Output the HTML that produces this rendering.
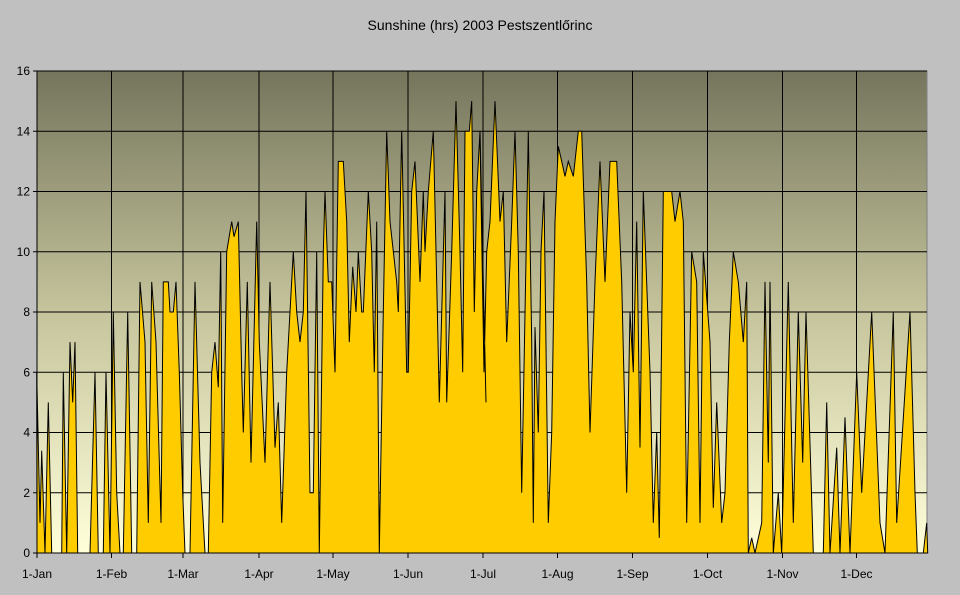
<!DOCTYPE html>
<html><head><meta charset="utf-8"><style>
body{margin:0;background:#c0c0c0;}
svg{display:block;font-family:"Liberation Sans",sans-serif;}
</style></head><body>
<svg id="s" width="960" height="595" xmlns="http://www.w3.org/2000/svg">
<defs><linearGradient id="g" x1="0" y1="0" x2="0" y2="1">
<stop offset="0" stop-color="#75755d"/><stop offset="0.5" stop-color="#c5c49c"/><stop offset="1" stop-color="#ffffda"/></linearGradient></defs>
<rect width="960" height="595" fill="#c0c0c0"/>
<text x="480" y="30" font-size="14" text-anchor="middle" fill="#000">Sunshine (hrs) 2003 Pestszentlőrinc</text>
<rect x="37" y="71" width="890" height="482" fill="url(#g)" stroke="#808080"/>
<g id="grid" stroke="#000" stroke-width="1"></g>
<path id="area" fill="#ffcc00" stroke="#000" stroke-width="1"/>
<g id="lab" font-size="12" fill="#000"></g>
</svg>
<script>
var z1=[[20,6],[30,1],[35,3.4],[45,0],[55,5],[65,0],[95,0],[100,6],[110,0],[120,7],[128,5],[135,7],[143,0],[180,0],[195,6],[205,0],[220,0],[228,6],[240,0],[250,8],[260,2],[270,0],[280,0],[293,8],[305,0],[320,0],[330,9],[345,7],[355,1],[365,9],[378,7],[393,1],[400,9],[415,9],[420,8],[430,8],[438,9],[448,6],[458,2],[465,0],[480,0],[495,9],[510,3],[525,0],[535,0],[545,6],[555,7],[565,5.5],[572,10],[578,1],[590,10],[605,11],[612,10.5],[625,11],[635,6],[640,4],[652,9],[663,3],[680,11],[688,7],[705,3],[720,9],[735,3.5],[745,5],[755,1],[770,6],[790,10],[800,8],[810,7],[820,8],[828,12],[840,2],[850,2],[860,10],[868,0],[880,10],[885,12],[895,9],[905,9],[915,6],[925,13],[940,13],[950,11],[958,7],[968,9.5],[978,8],[985,10],[995,8],[1000,8],[1015,12],[1025,10],[1033,6],[1040,11],[1048,0],[1060,8],[1070,14],[1080,11],[1100,9],[1105,8],[1115,14],[1130,6],[1135,6],[1145,12],[1155,13],[1170,9],[1180,12],[1185,10],[1195,12],[1210,14],[1220,9],[1228,5],[1245,12],[1250,5],[1265,10],[1278,15],[1290,10],[1298,6],[1305,14],[1318,14],[1325,15],[1333,8],[1340,12],[1350,14],[1360,9],[1368,5]];
var z2=[[0,13.8],[12,6],[20,10],[30,11],[45,15],[60,11],[70,12],[80,7],[95,11],[105,14],[115,10],[125,2],[140,11],[145,14],[155,7],[160,1],[165,7.5],[175,4],[183,10],[192,12],[205,1],[215,4],[225,11],[235,13.5],[245,13],[255,12.5],[265,13],[280,12.5],[295,14],[305,14],[320,9],[330,4],[345,9],[360,13],[375,9],[390,13],[410,13],[425,9],[440,2],[450,8],[460,6],[470,11],[480,3.5],[490,12],[510,6],[520,1],[530,4],[538,0.5],[550,12],[560,12],[575,12],[585,11],[600,12],[610,11],[620,1],[635,10],[650,9],[660,1],[670,10],[690,7],[700,1.5],[710,5],[725,1],[735,2],[748,7],[760,10],[775,9],[790,7],[800,9],[805,0],[815,0.5],[825,0],[845,1],[855,9],[865,3],[870,9],[880,0],[895,2],[905,0],[925,9],[940,1],[955,8],[968,3],[978,8],[1000,0],[1030,0],[1040,5],[1050,0],[1070,3.5],[1080,0],[1095,4.5],[1110,0],[1130,6],[1145,2],[1175,8],[1200,1],[1215,0],[1240,8],[1250,1],[1290,8],[1305,2],[1312,0],[1330,0],[1340,1],[1343,0]];
var Y=function(v){return 553-v*30.125};
var d="M37,553 L37,"+Y(0);
z1.forEach(function(p){d+=" L"+(30+p[0]/3).toFixed(1)+","+Y(p[1]).toFixed(1)});
z2.forEach(function(p){d+=" L"+(480+p[0]/3).toFixed(1)+","+Y(p[1]).toFixed(1)});
d+=" L927,553 Z";
document.getElementById('area').setAttribute('d',d);
var ns="http://www.w3.org/2000/svg",gr=document.getElementById('grid'),lb=document.getElementById('lab');
function el(t,a,p,txt){var e=document.createElementNS(ns,t);for(var k in a)e.setAttribute(k,a[k]);if(txt!==undefined)e.textContent=txt;p.appendChild(e);return e;}
for(var v=0;v<=16;v+=2){var y=Y(v);el('line',{x1:37,x2:927,y1:y,y2:y},gr);el('line',{x1:33,x2:37,y1:y,y2:y,stroke:'#000'},lb);el('text',{x:30,y:y+4,'text-anchor':'end'},lb,String(v));}
var m=["1-Jan","1-Feb","1-Mar","1-Apr","1-May","1-Jun","1-Jul","1-Aug","1-Sep","1-Oct","1-Nov","1-Dec"],xs=[37,111.5,183,259,333,408,483,557.5,632.5,707.5,782.5,856.5];
for(var i=0;i<12;i++){var x=xs[i];el('line',{x1:x,x2:x,y1:71,y2:553},gr);el('line',{x1:x,x2:x,y1:553,y2:558,stroke:'#000'},lb);el('text',{x:x,y:578,'text-anchor':'middle'},lb,m[i]);}
el('line',{x1:37,x2:37,y1:71,y2:553,stroke:'#000'},lb);el('line',{x1:37,x2:927,y1:553,y2:553,stroke:'#000'},lb);
</script>
</body></html>
